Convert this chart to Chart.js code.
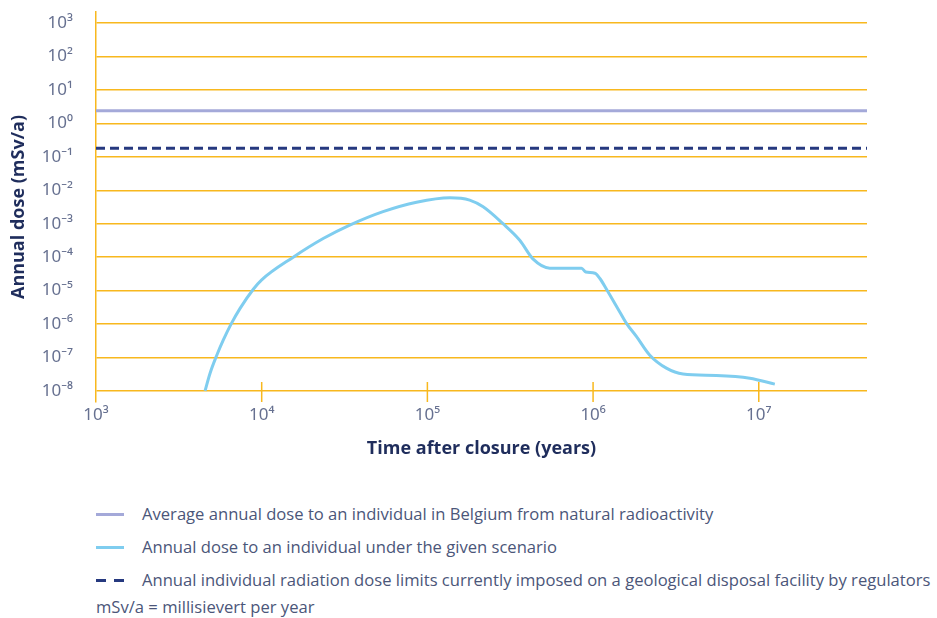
<!DOCTYPE html>
<html><head><meta charset="utf-8">
<script src="https://cdn.jsdelivr.net/npm/chart.js@4.4.1/dist/chart.umd.min.js"></script>
<style>
body{margin:0;background:#fff;width:937px;height:618px;overflow:hidden;position:relative;font-family:'Open Sans', sans-serif;}
#wrap{position:absolute;left:0;top:0;width:937px;height:470px;}
.row{position:absolute;left:96px;height:20px;line-height:20px;font-size:16.6px;color:#4b5679;white-space:nowrap;}
.sw{position:absolute;left:0;top:9px;width:28px;height:3px;}
.row .t{position:absolute;left:46px;top:0;}
</style></head><body>
<div id="wrap"><canvas id="c" width="937" height="470"></canvas></div>
<div id="legend"></div>
<script>
// ---- data ----
const scenarioYears = [4550, 4880, 5350, 5860, 6520, 7390, 8900, 10000, 15500, 23500, 34000, 54000, 86000, 136800, 180000, 217000, 286000, 361000, 435000, 548000, 851000, 904000, 1026000, 1099000, 1205000, 1449000, 1590000, 1830000, 2200000, 2770000, 3490000, 5550000, 8830000, 12500000];
const scenarioDose  = [1e-8, 3.4e-8, 1.15e-7, 3.3e-7, 9.8e-7, 2.9e-6, 1.1e-5, 2.1e-5, 1.0e-4, 3.6e-4, 9.1e-4, 2.3e-3, 4.4e-3, 6.0e-3, 5.1e-3, 3.2e-3, 1.0e-3, 3.2e-4, 8.7e-5, 4.7e-5, 4.7e-5, 3.6e-5, 3.3e-5, 2.3e-5, 1.1e-5, 2.3e-6, 1.05e-6, 4.2e-7, 1.17e-7, 4.8e-8, 3.2e-8, 2.9e-8, 2.4e-8, 1.6e-8];
const naturalDoseYears = [1000, 45000000];
const naturalDose = [2.4, 2.4];
const limitYears = [1000, 45000000];
const limitDose = [0.18, 0.18];
const xTickExponents = [3, 4, 5, 6, 7];
const yTickExponents = [-8, -7, -6, -5, -4, -3, -2, -1, 0, 1, 2, 3];
const seriesLabels = [
  'Average annual dose to an individual in Belgium from natural radioactivity',
  'Annual dose to an individual under the given scenario',
  'Annual individual radiation dose limits currently imposed on a geological disposal facility by regulators'
];
const footnote = 'mSv/a = millisievert per year';
const yTitle = 'Annual dose (mSv/a)';
const xTitle = 'Time after closure (years)';

// ---- styles ----
const GRID = '#f8b81e';
const TICKC = '#667090';
const TITLEC = '#1f2d5c';
const colors = ['#a4a9d9', '#7fcdef', '#26397f'];

const SUP = {'-':'\u207B','0':'\u2070','1':'\u00B9','2':'\u00B2','3':'\u00B3','4':'\u2074','5':'\u2075','6':'\u2076','7':'\u2077','8':'\u2078','9':'\u2079'};
const pow = e => '10' + String(e).split('').map(c => SUP[c]).join('');
const toPts = (xs, ys) => xs.map((x, i) => ({x, y: ys[i]}));

const xTickMarks = {
  id: 'xTickMarks',
  beforeDatasetsDraw(chart) {
    const ctx = chart.ctx, xs = chart.scales.x, ys = chart.scales.y;
    const yb = ys.getPixelForValue(1e-8);
    ctx.save();
    ctx.strokeStyle = GRID; ctx.lineWidth = 1.5;
    ctx.beginPath();
    xTickExponents.slice(1).forEach(e => {
      const px = xs.getPixelForValue(Math.pow(10, e));
      ctx.moveTo(px, yb - 9); ctx.lineTo(px, chart.chartArea.bottom);
    });
    ctx.stroke();
    ctx.restore();
  }
};

new Chart(document.getElementById('c'), {
  type: 'line',
  data: {
    datasets: [
      {label: seriesLabels[0], data: toPts(naturalDoseYears, naturalDose), borderColor: colors[0], borderWidth: 3, pointRadius: 0},
      {label: seriesLabels[1], data: toPts(scenarioYears, scenarioDose), borderColor: colors[1], borderWidth: 3, pointRadius: 0, cubicInterpolationMode: 'monotone'},
      {label: seriesLabels[2], data: toPts(limitYears, limitDose), borderColor: colors[2], borderWidth: 3, pointRadius: 0, borderDash: [9, 5]}
    ]
  },
  options: {
    responsive: false,
    animation: false,
    devicePixelRatio: 1,
    layout: {padding: {top: 12, right: 70, left: 0, bottom: 0}},
    plugins: {legend: {display: false}, tooltip: {enabled: false}},
    scales: {
      x: {
        type: 'logarithmic', min: 1000, max: 45000000,
        afterBuildTicks: s => { s.ticks = xTickExponents.map(e => ({value: Math.pow(10, e)})); },
        afterFit: s => { s.height = 68; s.paddingLeft = 0; s.paddingRight = 0; },
        grid: {display: false, drawTicks: false},
        border: {display: false},
        ticks: {color: TICKC, font: {family: 'Noto Sans', size: 17}, padding: 3, maxRotation: 0, autoSkip: false,
          callback: v => pow(Math.round(Math.log10(v)))},
        title: {display: true, text: xTitle, color: TITLEC, font: {family: 'Open Sans', size: 18, weight: 'bold'}, padding: {top: 0, bottom: 10}}
      },
      y: {
        type: 'logarithmic', min: Math.pow(10, -8.33), max: Math.pow(10, 3.33),
        afterBuildTicks: s => { s.ticks = yTickExponents.map(e => ({value: Math.pow(10, e)})); },
        afterFit: s => { s.width = 96; s.paddingTop = 0; s.paddingBottom = 0; },
        grid: {color: GRID, lineWidth: 1.5, drawTicks: false},
        border: {display: true, color: GRID, width: 1.5},
        ticks: {color: TICKC, font: {family: 'Noto Sans', size: 17}, padding: 23, autoSkip: false,
          callback: v => pow(Math.round(Math.log10(v)))},
        title: {display: true, text: yTitle, color: TITLEC, font: {family: 'Open Sans', size: 18, weight: 'bold'}, padding: {top: 8, bottom: 0}}
      }
    }
  },
  plugins: [xTickMarks]
});

// ---- HTML legend ----
const legend = document.getElementById('legend');
const rowsY = [504, 537, 570];
seriesLabels.forEach((lab, i) => {
  const r = document.createElement('div');
  r.className = 'row'; r.style.top = rowsY[i] + 'px';
  const sw = document.createElement('div'); sw.className = 'sw';
  if (i === 2) sw.style.background = `repeating-linear-gradient(90deg, ${colors[2]} 0 10px, transparent 10px 18px)`;
  else sw.style.background = colors[i];
  const t = document.createElement('span'); t.className = 't'; t.textContent = lab;
  r.appendChild(sw); r.appendChild(t); legend.appendChild(r);
});
const fn = document.createElement('div');
fn.className = 'row'; fn.style.top = '597px'; fn.textContent = footnote;
legend.appendChild(fn);
</script>
</body></html>
